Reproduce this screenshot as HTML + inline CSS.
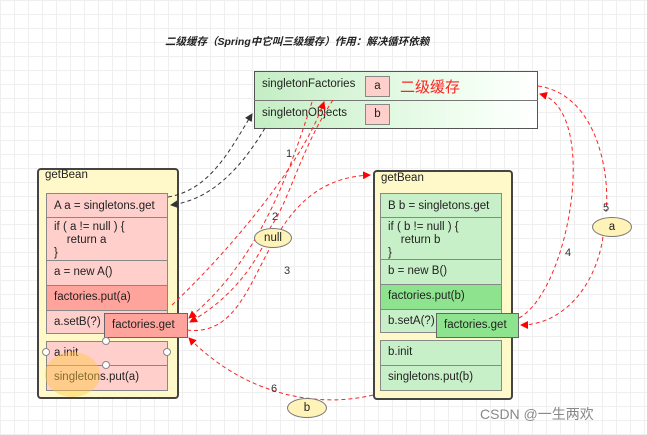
<!DOCTYPE html>
<html><head><meta charset="utf-8"><style>
body{margin:0;width:647px;height:435px;overflow:hidden;position:relative;background:#fff;
background-image:linear-gradient(#efefef 1px,transparent 1px),linear-gradient(90deg,#efefef 1px,transparent 1px);background-size:14px 14px;
font-family:"Liberation Sans","Noto Sans CJK SC",sans-serif;font-size:11.5px;color:#222}
.a{position:absolute;box-sizing:border-box}
.outer{background:#fff8c8;border:2px solid #444;border-radius:4px}
.r{position:absolute;box-sizing:border-box;border:1px solid #888;padding:0 0 0 7px;line-height:22px}
.p{background:#ffcfcc}.pd{background:#ffa49c}
.g{background:#c8f0c8}.gd{background:#8ee48e}
.el{position:absolute;border:1px solid #777;background:#fff3b8;border-radius:50%;text-align:center;box-sizing:border-box}
.n{position:absolute;font-size:11px;color:#333}
</style></head><body>
<div class="a" style="left:165px;top:34px;font-size:10.5px;font-weight:bold;font-style:italic;color:#222">二级缓存（Spring中它叫三级缓存）作用：解决循环依赖</div>

<div class="a" style="left:254px;top:71px;width:284px;height:58px;border:1px solid #555;background:linear-gradient(90deg,#c4eec4,#f4fff4 80%,#fff)"></div>
<div class="a" style="left:254px;top:100px;width:284px;height:1px;background:#777"></div>
<div class="a" style="left:262px;top:78px">singletonFactories</div>
<div class="a" style="left:262px;top:107px">singletonObjects</div>
<div class="a p" style="left:365px;top:76px;width:25px;height:21px;border:1px solid #888;text-align:center;line-height:19px">a</div>
<div class="a p" style="left:365px;top:104px;width:25px;height:21px;border:1px solid #888;text-align:center;line-height:19px">b</div>
<div class="a" style="left:400px;top:76px;color:#f22;font-size:15px">二级缓存</div>

<div class="a outer" style="left:37px;top:168px;width:142px;height:231px"></div>
<div class="a" style="left:45px;top:169px">getBean</div>
<div class="r p" style="left:46px;top:193px;width:122px;height:25px;line-height:25px">A a = singletons.get</div>
<div class="r p" style="left:46px;top:217px;width:122px;height:44px;line-height:13px;padding-top:3px">if ( a != null ) {<br>&nbsp;&nbsp;&nbsp;&nbsp;return a<br>}</div>
<div class="r p" style="left:46px;top:260px;width:122px;height:26px">a = new A()</div>
<div class="r pd" style="left:46px;top:285px;width:122px;height:26px">factories.put(a)</div>
<div class="r p" style="left:46px;top:310px;width:122px;height:24px">a.setB(?)</div>
<div class="r p" style="left:46px;top:341px;width:122px;height:25px">a.init</div>
<div class="r p" style="left:46px;top:365px;width:122px;height:26px">singletons.put(a)</div>
<div class="a" style="left:45px;top:352px;width:55px;height:45px;border-radius:50%;background:rgba(255,200,60,.45)"></div>
<div class="r pd" style="left:104px;top:313px;width:84px;height:25px;border-color:#666">factories.get</div>

<div class="a outer" style="left:373px;top:170px;width:140px;height:230px"></div>
<div class="a" style="left:381px;top:172px">getBean</div>
<div class="r g" style="left:380px;top:193px;width:122px;height:25px;line-height:25px">B b = singletons.get</div>
<div class="r g" style="left:380px;top:217px;width:122px;height:43px;line-height:13px;padding-top:3px">if ( b != null ) {<br>&nbsp;&nbsp;&nbsp;&nbsp;return b<br>}</div>
<div class="r g" style="left:380px;top:259px;width:122px;height:26px">b = new B()</div>
<div class="r gd" style="left:380px;top:284px;width:122px;height:26px">factories.put(b)</div>
<div class="r g" style="left:380px;top:309px;width:122px;height:24px">b.setA(?)</div>
<div class="r g" style="left:380px;top:340px;width:122px;height:26px">b.init</div>
<div class="r g" style="left:380px;top:365px;width:122px;height:26px">singletons.put(b)</div>
<div class="r gd" style="left:436px;top:313px;width:83px;height:25px;border-color:#666">factories.get</div>

<svg class="a" style="left:0;top:0" width="647" height="435">
<defs>
<marker id="k" markerWidth="8" markerHeight="8" refX="7" refY="4" orient="auto"><path d="M0,0L8,4L0,8z" fill="#333"/></marker>
<marker id="rd" markerWidth="8" markerHeight="8" refX="7" refY="4" orient="auto"><path d="M0,0L8,4L0,8z" fill="#f00"/></marker>
</defs>
<g fill="none" stroke-dasharray="4,3" stroke-width="1">
<path d="M168,197 C210,190 230,150 252,114" stroke="#333" marker-end="url(#k)"/>
<path d="M265,128 C240,170 210,200 171,205" stroke="#333" marker-end="url(#k)"/>
<g stroke="#f22">
<path d="M312,102 C290,170 260,260 189,318" marker-end="url(#rd)"/>
<path d="M333,100 C300,150 290,200 270,228 M262,248 C245,280 220,305 190,322" marker-end="url(#rd)"/>
<path d="M187,330 C270,340 250,180 370,175" marker-end="url(#rd)"/>
<path d="M172,305 C220,260 300,170 324,102" marker-end="url(#rd)"/>
<path d="M373,395 C310,410 240,390 189,338" marker-end="url(#rd)"/>
<path d="M519,318 C570,290 600,110 540,94" marker-end="url(#rd)"/>
<path d="M538,86 C600,95 610,180 606,212 M603,237 C595,290 560,325 521,325" marker-end="url(#rd)"/>
</g></g>
<g fill="#fff" stroke="#888"><circle cx="46" cy="352" r="3.5"/><circle cx="167" cy="352" r="3.5"/><circle cx="106" cy="341" r="3.5"/><circle cx="106" cy="365" r="3.5"/></g>
</svg>
<div class="el" style="left:254px;top:228px;width:38px;height:20px;line-height:18px">null</div>
<div class="el" style="left:592px;top:217px;width:40px;height:20px;line-height:18px">a</div>
<div class="el" style="left:287px;top:398px;width:40px;height:20px;line-height:18px">b</div>
<div class="n" style="left:286px;top:148px">1</div>
<div class="n" style="left:272px;top:211px">2</div>
<div class="n" style="left:284px;top:265px">3</div>
<div class="n" style="left:565px;top:247px">4</div>
<div class="n" style="left:603px;top:202px">5</div>
<div class="n" style="left:271px;top:383px">6</div>
<div class="a" style="left:480px;top:404px;font-size:14px;color:#888">CSDN @一生两欢</div>
</body></html>
